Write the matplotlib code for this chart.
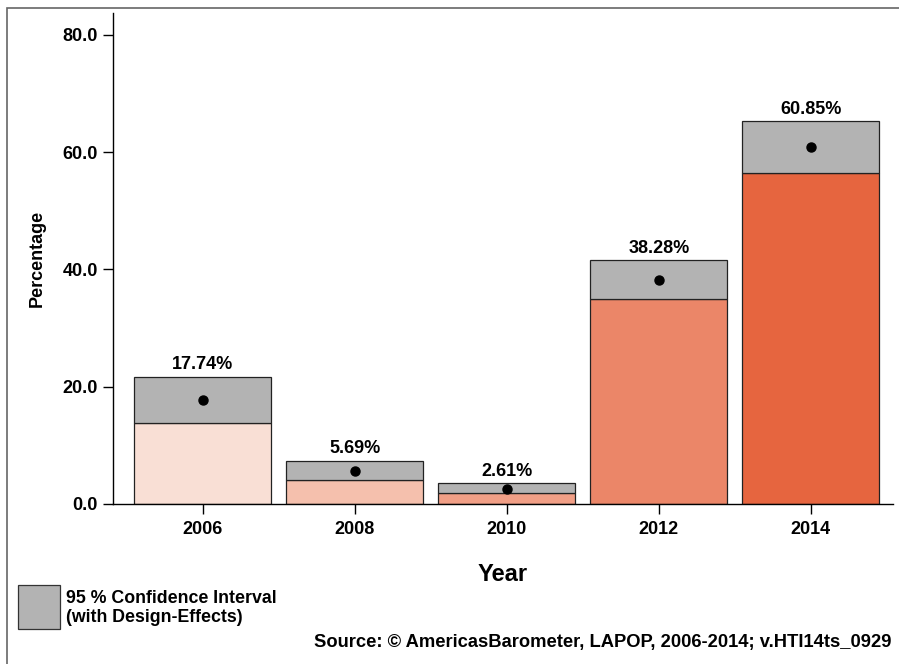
import matplotlib.pyplot as plt
from matplotlib.patches import Rectangle

plt.rcParams['font.family'] = ['Liberation Sans', 'DejaVu Sans']
plt.rcParams['font.weight'] = 'bold'

# data
years = ['2006', '2008', '2010', '2012', '2014']
estimate = [17.74, 5.69, 2.61, 38.28, 60.85]
ci_low = [13.8, 4.09, 1.95, 34.9, 56.4]
ci_high = [21.7, 7.39, 3.53, 41.57, 65.28]
bar_colors = ['#f9dfd5', '#f5c0ad', '#f19f86', '#eb8668', '#e6653f']
yticks = [0, 20, 40, 60, 80]

fig = plt.figure(figsize=(8.99, 6.64), dpi=100)
ax = fig.add_axes([113 / 899, 160 / 664, 780 / 899, 491 / 664])

x = list(range(len(years)))
w = 0.9
ax.bar(x, ci_low, width=w, color=bar_colors, edgecolor='#222222', linewidth=0.9, zorder=2)
ax.bar(x, [h - l for h, l in zip(ci_high, ci_low)], bottom=ci_low, width=w,
       color='#b3b3b3', edgecolor='#222222', linewidth=0.9, zorder=2)
ax.plot(x, estimate, 'o', color='black', markersize=6.5, zorder=3)
for xi, top, est in zip(x, ci_high, estimate):
    ax.text(xi, top + 0.6, f'{est:.2f}%', ha='center', va='bottom',
            fontsize=13, fontweight='bold')

ax.set_xlim(-0.59, 4.54)
ax.set_ylim(0, 83.75)
ax.set_xticks(x)
ax.set_xticklabels(years)
ax.set_yticks(yticks)
ax.set_yticklabels([f'{v:.1f}' for v in yticks])
ax.tick_params(axis='both', direction='out', length=7, width=1, labelsize=13, pad=4)
ax.tick_params(axis='x', labelsize=13, pad=5)
for s in ['top', 'right']:
    ax.spines[s].set_visible(False)
for s in ['left', 'bottom']:
    ax.spines[s].set_linewidth(1)
ax.set_ylabel('Percentage', fontsize=13, fontweight='bold', labelpad=12)
ax.set_xlabel('Year', fontsize=17, fontweight='bold', labelpad=18)

# figure frame (only left and top visible)
fig.patches.append(Rectangle((7 / 899, -0.05), 1.2, (660 - 4) / 664 + 0.05,
                             transform=fig.transFigure, fill=False,
                             edgecolor='#666666', linewidth=1.2))

# legend
fig.patches.append(Rectangle((18 / 899, 35 / 664), 42 / 899, 44 / 664,
                             transform=fig.transFigure, facecolor='#b3b3b3',
                             edgecolor='#333333', linewidth=0.9))
fig.text(66 / 899, 56 / 664, '95 % Confidence Interval\n(with Design-Effects)',
         ha='left', va='center', fontsize=12.8, fontweight='bold', linespacing=1.12)

fig.text(891 / 899, 21 / 664, 'Source: \u00a9 AmericasBarometer, LAPOP, 2006-2014; v.HTI14ts_0929',
         ha='right', va='center', fontsize=13.2, fontweight='bold')

fig.savefig('out.png', dpi=100)
